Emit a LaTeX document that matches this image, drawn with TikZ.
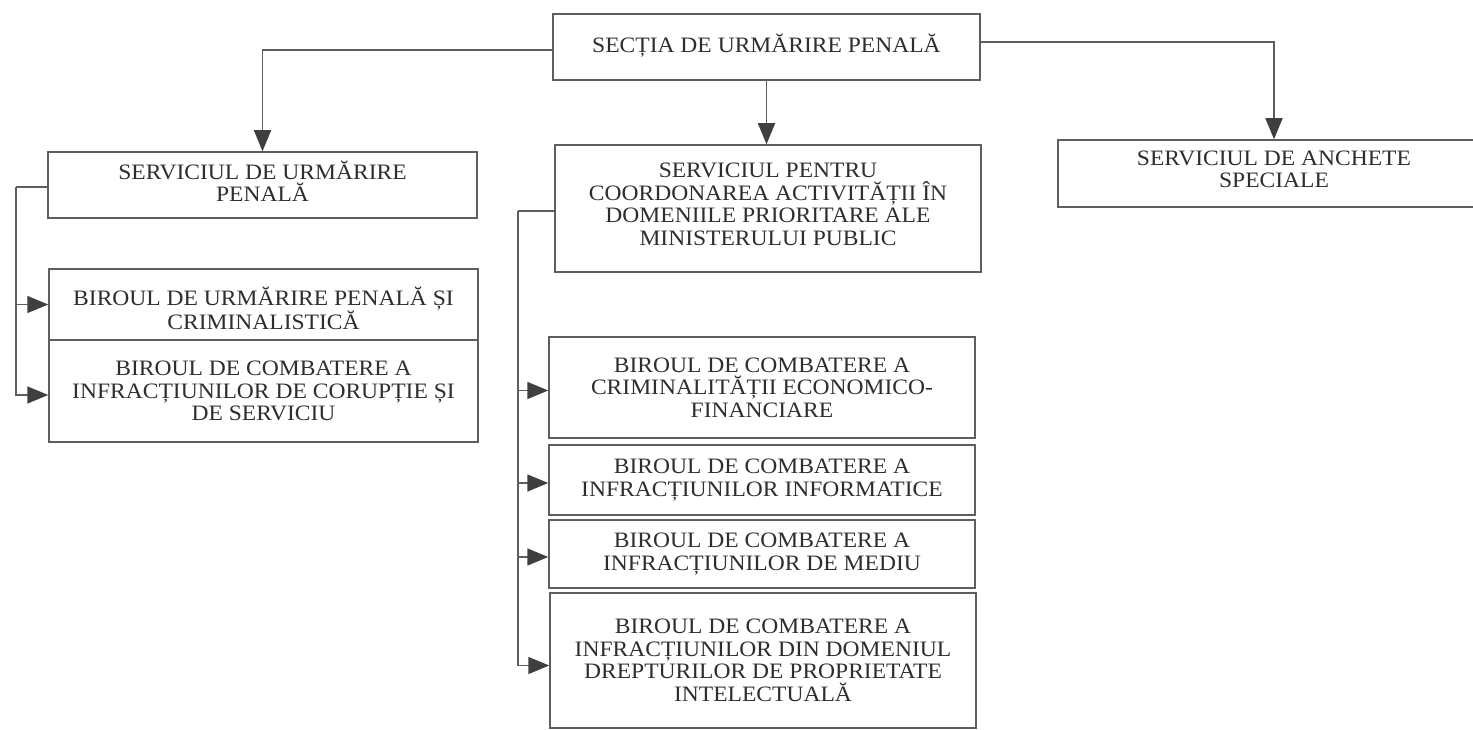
\documentclass[tikz,border=0pt]{standalone}
\usepackage{fontspec}
\setmainfont{Liberation Serif}[FakeStretch=1.07]
\usetikzlibrary{arrows.meta}
\definecolor{linegray}{HTML}{5E5E5E}
\definecolor{tipgray}{HTML}{3F3F3F}
\definecolor{textgray}{HTML}{2E2E2E}
\tikzset{
  orgbox/.style={draw=linegray, line width=1.5pt, fill=white, inner sep=0pt},
  orgtext/.style={inner sep=0pt, align=center, text=textgray,
    font=\fontsize{22}{22.6}\selectfont},
  conn/.style={draw=linegray, line width=1.5pt,
    -{Triangle[length=21pt,width=17pt,color=tipgray]}},
  plainline/.style={draw=linegray, line width=1.5pt},
}
\begin{document}
\begin{tikzpicture}[x=1pt,y=-1pt]
\useasboundingbox (0,0) rectangle (1473,730);
\clip (0,0) rectangle (1473,730);
\fill[white] (0,0) rectangle (1473,730);

% boxes
\node[orgbox, minimum width=427pt, minimum height=66pt] (top) at (766.5,47) {};
\node[orgbox, minimum width=429pt, minimum height=66pt] (sup) at (262.5,185) {};
\node[orgbox, minimum width=426pt, minimum height=127pt] (spc) at (768,208.5) {};
\node[orgbox, minimum width=432pt, minimum height=67pt] (sas) at (1274,173.5) {};
\node[orgbox, minimum width=429pt, minimum height=71pt] (b1) at (263.5,304.5) {};
\node[orgbox, minimum width=429pt, minimum height=102pt] (b2) at (263.5,391) {};
\node[orgbox, minimum width=426pt, minimum height=101pt] (m1) at (762,387.5) {};
\node[orgbox, minimum width=426pt, minimum height=70pt] (m2) at (762,480) {};
\node[orgbox, minimum width=426pt, minimum height=68pt] (m3) at (762,554) {};
\node[orgbox, minimum width=426pt, minimum height=135pt] (m4) at (763,660.5) {};

% texts
\node[orgtext] (topT) at ([yshift=1pt]top.center) {SECȚIA DE URMĂRIRE PENALĂ};
\node[orgtext] (supT) at ([yshift=4pt]sup.center) {SERVICIUL DE URMĂRIRE\\PENALĂ};
\node[orgtext] (spcT) at ([yshift=4pt]spc.center)
  {SERVICIUL PENTRU\\COORDONAREA ACTIVITĂȚII ÎN\\DOMENIILE PRIORITARE ALE\\MINISTERULUI PUBLIC};
\node[orgtext] (sasT) at ([yshift=4pt]sas.center) {SERVICIUL DE ANCHETE\\SPECIALE};
\node[orgtext] (b1T) at ([yshift=-4pt]b1.center) {BIROUL DE URMĂRIRE PENALĂ ȘI\\CRIMINALISTICĂ};
\node[orgtext] (b2T) at (b2.center) {BIROUL DE COMBATERE A\\INFRACȚIUNILOR DE CORUPȚIE ȘI\\DE SERVICIU};
\node[orgtext] (m1T) at (m1.center) {BIROUL DE COMBATERE A\\CRIMINALITĂȚII ECONOMICO-\\FINANCIARE};
\node[orgtext] (m2T) at (m2.center) {BIROUL DE COMBATERE A\\INFRACȚIUNILOR INFORMATICE};
\node[orgtext] (m3T) at (m3.center) {BIROUL DE COMBATERE A\\INFRACȚIUNILOR DE MEDIU};
\node[orgtext] (m4T) at (m4.center)
  {BIROUL DE COMBATERE A\\INFRACȚIUNILOR DIN DOMENIUL\\DREPTURILOR DE PROPRIETATE\\INTELECTUALĂ};

% top connectors
\draw[conn] ([yshift=-3pt]top.west) -| (sup.north);
\draw[conn] (top.south) -- (top.south |- spc.north);
\draw[conn] ([yshift=5pt]top.east) -| (sas.north);

% left bracket
\coordinate (lb) at (16,187);
\draw[plainline] (sup.west |- lb) -- (lb);
\draw[conn] (lb) |- (b1.west);
\draw[conn] (lb) |- ([yshift=-4pt]b2.west);

% middle bracket
\coordinate (mb) at (518,211);
\draw[plainline] (spc.west |- mb) -- (mb);
\draw[conn] (mb) |- ([yshift=-3pt]m1.west);
\draw[conn] (mb) |- ([yshift=-3pt]m2.west);
\draw[conn] (mb) |- ([yshift=-3pt]m3.west);
\draw[conn] (mb) |- ([yshift=-5pt]m4.west);
\end{tikzpicture}
\end{document}
